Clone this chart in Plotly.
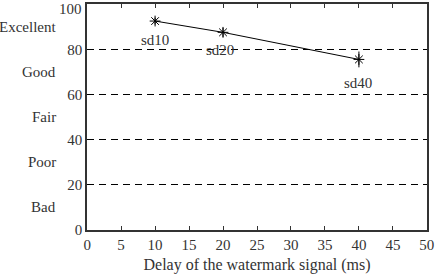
import plotly.graph_objects as go

delay = [10, 20, 40]
score = [92.5, 87.5, 75.5]
err = [1.5, 2.0, 3.5]
point_labels = ["sd10", "sd20", "sd40"]
label_offsets = [-8.5, -8.0, -10.5]  # value-space offsets for labels
label_xshift = [0, -0.4, -0.2]
grade_names = ["Excellent", "Good", "Fair", "Poor", "Bad"]
grade_centers = [90, 70, 50, 30, 10]
x_ticks = [0, 5, 10, 15, 20, 25, 30, 35, 40, 45, 50]
y_ticks = [0, 20, 40, 60, 80, 100]

FONT = "Liberation Serif"
fig = go.Figure()
fig.add_trace(go.Scatter(
    x=delay, y=score, mode="lines+markers",
    line=dict(color="black", width=1),
    marker=dict(symbol="asterisk-open", size=9, color="black",
                line=dict(color="black", width=1)),
    error_y=dict(type="data", array=err, color="black", thickness=1, width=0),
    showlegend=False,
))
for xv, yv, lab, off, xs in zip(delay, score, point_labels, label_offsets, label_xshift):
    fig.add_annotation(x=xv + xs, y=yv + off, text=lab, showarrow=False,
                       font=dict(family=FONT, size=15, color="#333"),
                       xref="x", yref="y")
for name, c in zip(grade_names, grade_centers):
    fig.add_annotation(x=-0.085, y=c, xref="paper", yref="y", text=name,
                       showarrow=False, xanchor="right",
                       font=dict(family=FONT, size=15, color="#333"))
# top tick label (auto-hidden by plotly since it overflows the page top)
top = y_ticks[-1]
fig.add_annotation(x=0, y=1, xref="paper", yref="paper", text=str(top),
                   showarrow=False, xanchor="right", yanchor="top",
                   xshift=-4, yshift=4, borderpad=0,
                   font=dict(family=FONT, size=15, color="#333"))

fig.update_layout(
    width=436, height=274,
    margin=dict(l=87, r=9, t=4, b=44),
    plot_bgcolor="white", paper_bgcolor="white",
    font=dict(family=FONT, size=14, color="#333"),
    xaxis=dict(range=[-0.02, 50.02], tickvals=x_ticks, ticks="inside", ticklen=4,
               tickcolor="#333", showline=True, linecolor="#333", linewidth=1.5,
               mirror="ticks", showgrid=False, zeroline=False, automargin=False,
               tickfont=dict(family=FONT, size=15, color="#333"),
               title=dict(text="Delay of the watermark signal (ms)", standoff=9,
                          font=dict(family=FONT, size=16, color="#333"))),
    yaxis=dict(range=[-0.05, 100.05], tickvals=y_ticks[:-1], ticks="", showline=True,
               linecolor="#333", linewidth=1.5, mirror=True, automargin=False,
               showgrid=True, gridcolor="black", gridwidth=1, griddash="7px,5px",
               zeroline=False,
               tickfont=dict(family=FONT, size=15, color="#333")),
)
fig.write_html("out.html")
